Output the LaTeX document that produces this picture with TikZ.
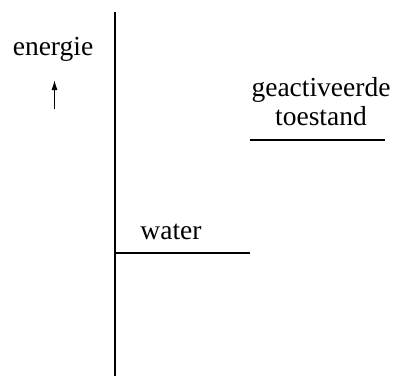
\documentclass[tikz,border=0pt]{standalone}
\usepackage{fontspec}
\usetikzlibrary{arrows.meta}
\setmainfont{Liberation Serif}
\begin{document}
\begin{tikzpicture}[x=1pt,y=-1pt,
  lbl/.style={anchor=base,inner sep=0pt,font=\fontsize{27.5}{33}\selectfont},
  level/.style={line width=2pt},
  axis/.style={line width=2pt}]
\useasboundingbox (0,0) rectangle (404,376);
\coordinate (axtop) at (114.5,12);
\coordinate (axbot) at (114.5,376);
\draw[axis] (axtop) -- (axbot);
\node[lbl] (energie) at (53,55) {energie};
\coordinate (arbot) at (54.5,108.5);
\coordinate (artop) at (54.5,80);
\draw[line width=1.2pt,-{Latex[length=10pt,width=6pt]}] (arbot) -- (artop);
\node[lbl] (geact) at (321,96) {geactiveerde};
\node[lbl] (toest) at (321,125.5) {toestand};
\coordinate (tsl) at (249.5,139.5);
\coordinate (tsr) at (385,139.5);
\draw[level] (tsl) -- (tsr);
\node[lbl] (water) at (171,239) {water};
\coordinate (wl) at (114.5,253);
\coordinate (wr) at (250,253);
\draw[level] (wl) -- (wr);
\end{tikzpicture}
\end{document}
